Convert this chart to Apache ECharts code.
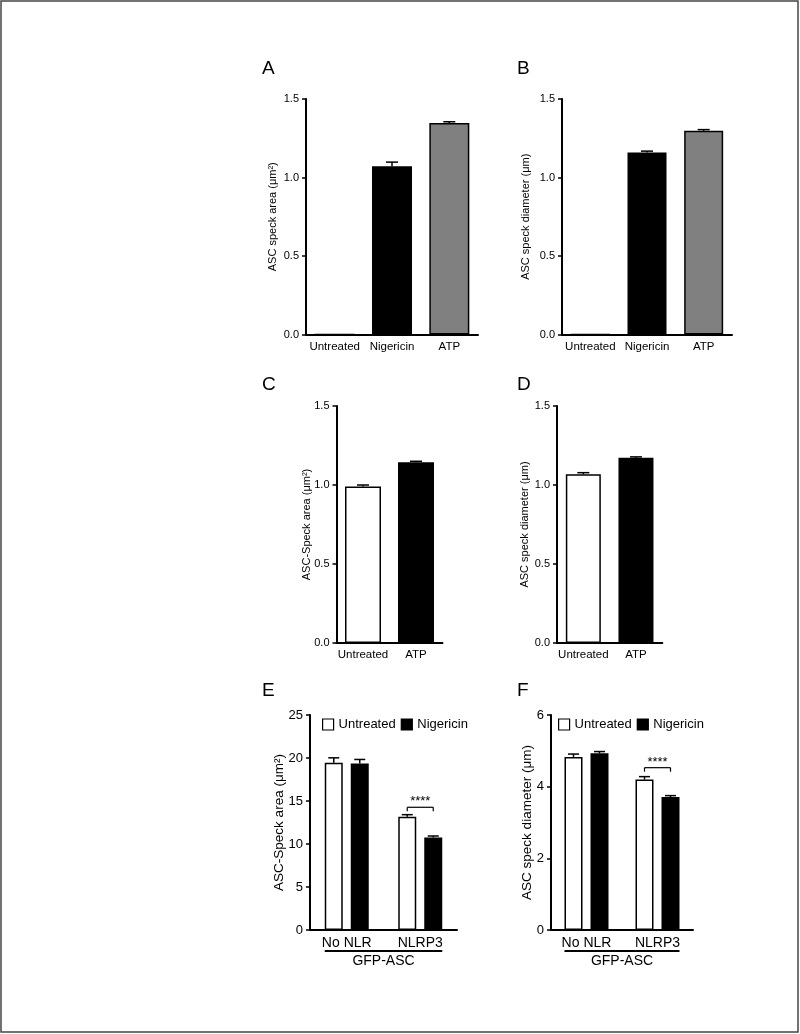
<!DOCTYPE html>
<html><head><meta charset="utf-8">
<script src="https://cdn.jsdelivr.net/npm/echarts@6/dist/echarts.min.js"></script>
<style>html,body{margin:0;padding:0;background:#fff}#c{width:800px;height:1034px}</style>
</head><body><div id="c"></div>
<script>
// ---------- data ----------
const catsAB = ['Untreated', 'Nigericin', 'ATP'];
const areaAB = [0, 1.072, 1.347];
const areaABErr = [0, 0.026, 0.008];
const diamAB = [0, 1.159, 1.297];
const diamABErr = [0, 0.009, 0.008];

const catsCD = ['Untreated', 'ATP'];
const areaCD = [0.990, 1.144];
const areaCDErr = [0.010, 0.006];
const diamCD = [1.068, 1.173];
const diamCDErr = [0.010, 0.005];

const catsEF = ['No NLR', 'NLRP3'];
const seriesEF = ['Untreated', 'Nigericin'];
const areaEUntreated = [19.44, 13.18];
const areaEUntreatedErr = [0.58, 0.23];
const areaENigericin = [19.36, 10.77];
const areaENigericinErr = [0.47, 0.16];
const diamFUntreated = [4.83, 4.20];
const diamFUntreatedErr = [0.08, 0.08];
const diamFNigericin = [4.93, 3.71];
const diamFNigericinErr = [0.05, 0.04];

const sigE = [[1, 14.27, '****']];
const sigF = [[1, 4.53, '****']];

const groupLabel = 'GFP-ASC';
const panelLetters = ['A', 'B', 'C', 'D', 'E', 'F'];

// ---------- styles ----------
const FONT = '"Liberation Sans", Arial, Helvetica, sans-serif';
const fillAB = ['#ffffff', '#000000', '#808080'];
const fillCD = ['#ffffff', '#000000'];
const BW_EF = 18, GAP_EF = 8;
const OFF_EF = (BW_EF + GAP_EF) / 2;

function errItem(offset, cap) {
  return function (params, api) {
    const c = api.value(0), v = api.value(1), e = api.value(2);
    if (!e) return;
    const p0 = api.coord([c, v]);
    const p1 = api.coord([c, v + e]);
    const x = p0[0] + offset;
    const st = { stroke: '#000', lineWidth: 1.5 };
    return { type: 'group', children: [
      { type: 'line', shape: { x1: x, y1: p0[1], x2: x, y2: p1[1] }, style: st },
      { type: 'line', shape: { x1: x - cap / 2, y1: p1[1], x2: x + cap / 2, y2: p1[1] }, style: st }
    ]};
  };
}
function sigItem(params, api) {
  const c = api.value(0), y = api.value(1);
  const p = api.coord([c, y]);
  const x1 = p[0] - OFF_EF, x2 = p[0] + OFF_EF;
  const st = { stroke: '#000', lineWidth: 1.2 };
  return { type: 'group', children: [
    { type: 'line', shape: { x1: x1, y1: p[1], x2: x2, y2: p[1] }, style: st },
    { type: 'line', shape: { x1: x1, y1: p[1], x2: x1, y2: p[1] + 4 }, style: st },
    { type: 'line', shape: { x1: x2, y1: p[1], x2: x2, y2: p[1] + 4 }, style: st },
    { type: 'text', x: p[0], y: p[1] + 1, style: { text: api.value(2), fontSize: 13, fontFamily: FONT, fill: '#000', align: 'center', verticalAlign: 'bottom' } }
  ]};
}
const errData = (vals, errs) => vals.map((v, i) => [i, v, errs[i]]);

const grids = [
  { left: 306, top: 99, width: 172, height: 235.5 },
  { left: 562, top: 99, width: 170, height: 235.5 },
  { left: 336.5, top: 406, width: 106, height: 237 },
  { left: 557, top: 406, width: 105.3, height: 237 },
  { left: 310, top: 715, width: 147, height: 215 },
  { left: 551, top: 715, width: 142, height: 215 }
];

function xAx(i, data, fs) {
  return {
    type: 'category', gridIndex: i, data: data,
    axisLine: { lineStyle: { color: '#000', width: 2 } },
    axisTick: { alignWithLabel: true, length: 4, lineStyle: { color: '#000', width: 1.5 } },
    axisLabel: { color: '#000', fontSize: fs, fontFamily: FONT, margin: 6, interval: 0 }
  };
}
function yAx(i, max, interval, dec, name, nameFs, gap, labelFs) {
  return {
    type: 'value', gridIndex: i, min: 0, max: max, interval: interval,
    axisLine: { show: true, lineStyle: { color: '#000', width: 2 } },
    axisTick: { show: true, length: 4, lineStyle: { color: '#000', width: 1.5 } },
    splitLine: { show: false },
    axisLabel: { color: '#000', fontSize: labelFs, fontFamily: FONT, margin: 7,
      formatter: v => v.toFixed(dec) },
    name: name, nameLocation: 'middle', nameGap: gap, nameRotate: 90,
    nameMoveOverlap: false,
    nameTextStyle: { color: '#000', fontSize: nameFs, fontFamily: FONT }
  };
}

const series = [];
function singleBars(idx, vals, errs, fills, bw, name) {
  series.push({
    type: 'bar', name: name, xAxisIndex: idx, yAxisIndex: idx, barWidth: bw,
    data: vals.map((v, i) => ({ value: v, itemStyle: { color: fills[i] } })),
    itemStyle: { borderColor: '#000', borderWidth: 1.5 },
    silent: true, animation: false
  });
  series.push({
    type: 'custom', xAxisIndex: idx, yAxisIndex: idx, renderItem: errItem(0, 12),
    data: errData(vals, errs), z: 5, silent: true, animation: false
  });
}
singleBars(0, areaAB, areaABErr, fillAB, 40, 'areaAB');
singleBars(1, diamAB, diamABErr, fillAB, 39, 'diamAB');
singleBars(2, areaCD, areaCDErr, fillCD, 36, 'areaCD');
singleBars(3, diamCD, diamCDErr, fillCD, 35, 'diamCD');

function groupBars(idx, u, ue, n, ne, sig) {
  series.push({
    type: 'bar', name: seriesEF[0], xAxisIndex: idx, yAxisIndex: idx,
    barWidth: BW_EF, barGap: (GAP_EF / BW_EF * 100) + '%', data: u,
    itemStyle: { color: '#fff', borderColor: '#000', borderWidth: 1.5 }, silent: true, animation: false
  });
  series.push({
    type: 'bar', name: seriesEF[1], xAxisIndex: idx, yAxisIndex: idx,
    barWidth: BW_EF, barGap: (GAP_EF / BW_EF * 100) + '%', data: n,
    itemStyle: { color: '#000', borderColor: '#000', borderWidth: 1.5 }, silent: true, animation: false
  });
  series.push({ type: 'custom', xAxisIndex: idx, yAxisIndex: idx, renderItem: errItem(-OFF_EF, 11),
    data: errData(u, ue), z: 5, silent: true, animation: false });
  series.push({ type: 'custom', xAxisIndex: idx, yAxisIndex: idx, renderItem: errItem(OFF_EF, 11),
    data: errData(n, ne), z: 5, silent: true, animation: false });
  series.push({ type: 'custom', xAxisIndex: idx, yAxisIndex: idx, renderItem: sigItem,
    data: sig, z: 5, silent: true, animation: false });
}
groupBars(4, areaEUntreated, areaEUntreatedErr, areaENigericin, areaENigericinErr, sigE);
groupBars(5, diamFUntreated, diamFUntreatedErr, diamFNigericin, diamFNigericinErr, sigF);

const letterPos = [[262, 69], [517, 69], [262, 385], [517, 385], [262, 691], [517, 691]];
const graphics = [
  { type: 'rect', shape: { x: 1, y: 1, width: 797, height: 1031 }, style: { fill: 'none', stroke: '#444', lineWidth: 1.5 }, silent: true }
];
panelLetters.forEach((t, i) => graphics.push({
  type: 'text', x: letterPos[i][0], y: letterPos[i][1],
  style: { text: t, fontSize: 19, fontFamily: FONT, fill: '#000', align: 'left', verticalAlign: 'middle' }, silent: true
}));

const legendBase = {
  data: seriesEF, top: 718, padding: 0, icon: 'rect', itemWidth: 11, itemHeight: 11, itemGap: 5,
  selectedMode: false,
  textStyle: { color: '#000', fontSize: 13, fontFamily: FONT },
  itemStyle: { borderColor: '#000', borderWidth: 1.2 }
};

const chart = echarts.init(document.getElementById('c'), null, { renderer: 'canvas' });
chart.setOption({
  animation: false,
  backgroundColor: '#fff',
  grid: grids,
  xAxis: [xAx(0, catsAB, 11.5), xAx(1, catsAB, 11.5), xAx(2, catsCD, 11.5), xAx(3, catsCD, 11.5), xAx(4, catsEF, 14), xAx(5, catsEF, 14)],
  yAxis: [
    yAx(0, 1.5, 0.5, 1, 'ASC speck area (μm²)', 11, 28, 11),
    yAx(1, 1.5, 0.5, 1, 'ASC speck diameter (μm)', 11, 31, 11),
    yAx(2, 1.5, 0.5, 1, 'ASC-Speck area (μm²)', 11, 24.5, 11),
    yAx(3, 1.5, 0.5, 1, 'ASC speck diameter (μm)', 11, 26.5, 11),
    yAx(4, 25, 5, 0, 'ASC-Speck area (μm²)', 13.5, 24, 13),
    yAx(5, 6, 2, 0, 'ASC speck diameter (μm)', 13.5, 17, 13)
  ],
  legend: [Object.assign({}, legendBase, { left: 322 }), Object.assign({}, legendBase, { left: 558 })],
  series: series,
  graphic: graphics
});

// group underline + label, placed from the axis scale of each grouped panel
const extra = [];
[4, 5].forEach(idx => {
  const pL = chart.convertToPixel({ xAxisIndex: idx, yAxisIndex: idx }, [0, 0]);
  const pR = chart.convertToPixel({ xAxisIndex: idx, yAxisIndex: idx }, [catsEF.length - 1, 0]);
  const x1 = pL[0] - OFF_EF - BW_EF / 2, x2 = pR[0] + OFF_EF + BW_EF / 2;
  const y = pL[1] + 21;
  extra.push({ type: 'line', shape: { x1: x1, y1: y, x2: x2, y2: y }, style: { stroke: '#000', lineWidth: 2 }, silent: true });
  extra.push({ type: 'text', x: (x1 + x2) / 2, y: y + 3, style: { text: groupLabel, fontSize: 14, fontFamily: FONT, fill: '#000', align: 'center', verticalAlign: 'top' }, silent: true });
});
chart.setOption({ graphic: graphics.concat(extra) });
</script>
</body></html>
